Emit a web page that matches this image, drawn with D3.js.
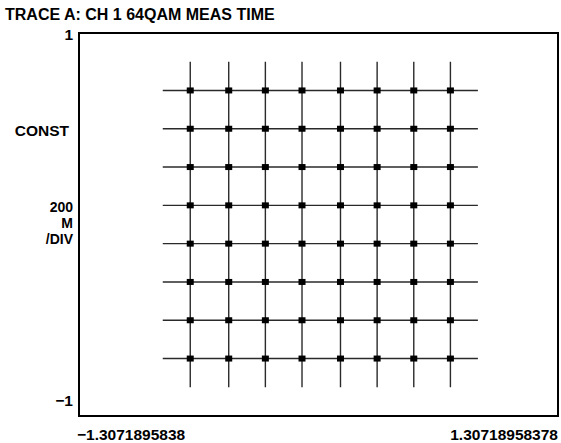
<!DOCTYPE html>
<html>
<head>
<meta charset="utf-8">
<script src="https://cdn.jsdelivr.net/npm/d3@7"></script>
<style>
body{margin:0;background:#fff;}
text{font-family:"Liberation Sans",Arial,sans-serif;font-weight:bold;fill:#000;}
</style>
</head>
<body>
<script>
const svg_width = 561, svg_height = 443;
// chart values
var title = "TRACE A: CH 1 64QAM MEAS TIME";
var xDomain = [-1.3071895838, 1.30718958378];
var xTickLabels = ["\u22121.3071895838", "1.30718958378"];
var yDomain = [-1, 1];
var yTickLabels = ["\u22121", "1"];
var sideLabels = ["CONST", "200", "M", "/DIV"];
var iLevels = [-0.70, -0.49, -0.29, -0.09, 0.12, 0.32, 0.52, 0.72];
var qLevels = [0.70, 0.50, 0.30, 0.10, -0.10, -0.30, -0.50, -0.70];
var iExtent = [-0.85, 0.87];
var qExtent = [-0.85, 0.85];

const frameLeft = 79, frameRight = 558, frameTop = 33, frameBottom = 416;
const fontSize = "15.5px";

var svgContainer = d3.select("body").append("svg")
	.attr("width", svg_width)
	.attr("height", svg_height);

var x = d3.scaleLinear().domain(xDomain).range([frameLeft, frameRight]);
var y = d3.scaleLinear().domain(yDomain).range([frameBottom, frameTop]);

svgContainer.append("text")
	.attr("x", 5).attr("y", 20)
	.attr("font-size", "16px")
	.text(title);

// trace lines
var lineGroup = svgContainer.append("g")
	.attr("stroke", "#2a2a2a")
	.attr("stroke-width", 1.4);
lineGroup.selectAll("line.v").data(iLevels).enter().append("line")
	.attr("class", "v")
	.attr("x1", function(d){return x(d)})
	.attr("x2", function(d){return x(d)})
	.attr("y1", y(qExtent[1]))
	.attr("y2", y(qExtent[0]));
lineGroup.selectAll("line.h").data(qLevels).enter().append("line")
	.attr("class", "h")
	.attr("y1", function(d){return y(d)})
	.attr("y2", function(d){return y(d)})
	.attr("x1", x(iExtent[0]))
	.attr("x2", x(iExtent[1]));

// constellation points
var points = [];
qLevels.forEach(function(q){ iLevels.forEach(function(i){ points.push({i:i, q:q}); }); });
svgContainer.append("g").selectAll("rect").data(points).enter().append("rect")
	.attr("x", function(d){return x(d.i) - 3.5})
	.attr("y", function(d){return y(d.q) - 3})
	.attr("width", 7).attr("height", 6)
	.attr("fill", "#000");

// frame
svgContainer.append("rect")
	.attr("x", frameLeft).attr("y", frameTop)
	.attr("width", frameRight - frameLeft).attr("height", frameBottom - frameTop)
	.attr("fill", "none")
	.attr("stroke", "#000")
	.attr("stroke-width", 2);

// axis labels
svgContainer.append("text").attr("x", frameLeft - 6).attr("y", 40)
	.attr("text-anchor", "end").attr("font-size", fontSize).text(yTickLabels[1]);
svgContainer.append("text").attr("x", frameLeft - 6).attr("y", 406)
	.attr("text-anchor", "end").attr("font-size", fontSize).text(yTickLabels[0]);
svgContainer.append("text").attr("x", frameLeft - 2).attr("y", 440)
	.attr("text-anchor", "start").attr("font-size", fontSize).text(xTickLabels[0]);
svgContainer.append("text").attr("x", frameRight).attr("y", 440)
	.attr("text-anchor", "end").attr("font-size", fontSize).text(xTickLabels[1]);

// side label: CONST, then 200 / M / /DIV stacked
svgContainer.append("text").attr("x", 69).attr("y", 136)
	.attr("text-anchor", "end").attr("font-size", fontSize).text(sideLabels[0]);
var sideY = [212, 228, 244];
sideLabels.slice(1).forEach(function(s, k){
	svgContainer.append("text").attr("x", 73).attr("y", sideY[k])
		.attr("text-anchor", "end").attr("font-size", "14px").text(s);
});
</script>
</body>
</html>
